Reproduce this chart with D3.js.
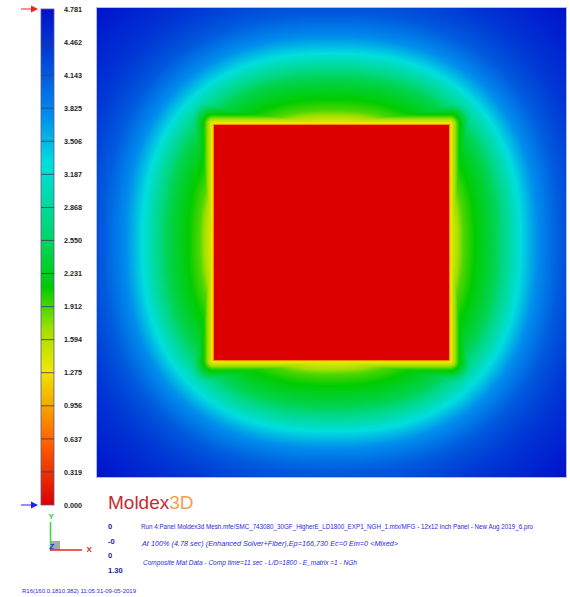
<!DOCTYPE html>
<html>
<head>
<meta charset="utf-8">
<script src="https://cdn.jsdelivr.net/npm/d3@7"></script>
<style>
  html, body { margin: 0; padding: 0; background: #ffffff; }
  svg { display: block; }
</style>
</head>
<body>
<svg id="chart" width="570" height="597"></svg>
<script>
// ---- result data: fill time (sec) ----
const tickValues = [0.000, 0.319, 0.637, 0.956, 1.275, 1.594, 1.912, 2.231, 2.550, 2.868, 3.187, 3.506, 3.825, 4.143, 4.462, 4.781];
const tickLabels = ["0.000", "0.319", "0.637", "0.956", "1.275", "1.594", "1.912", "2.231", "2.550", "2.868", "3.187", "3.506", "3.825", "4.143", "4.462", "4.781"];

// colour map (value -> colour)
const colorStops = [0.0, 0.6, 1.3, 1.7, 2.1, 2.7, 3.3, 3.8, 4.3, 4.781];
const colorHex = ["#dc0000", "#ff6000", "#f0e800", "#a0e000", "#00cc00", "#00d880", "#00dede", "#0088ec", "#0046d8", "#0010cc"];

// panel: charge square half-size (panel half-width = 1)
const chargeHalf = [0.503];
// flow front shape exponent (2 = circle, larger = squarer)
const frontExponent = [2.4];
// flow front time vs. distance from panel centre
const profileRadius = [0.503, 0.53, 0.56, 0.62, 0.70, 0.76, 0.81, 0.87, 0.97, 1.10, 1.335];
const profileTime = [1.30, 1.60, 1.90, 2.15, 2.50, 2.95, 3.35, 3.75, 4.15, 4.45, 4.781];
// time just outside the charge edge vs. distance from the edge
const edgeDist = [0.0, 0.015, 0.035, 0.3];
const edgeTime = [1.2, 1.55, 2.0, 6.0];

// annotation text
const headerNums = ["0", "-0", "0", "1.30"];
const infoLines = [
  "Run 4:Panel Moldex3d Mesh.mfe/SMC_743080_30GF_HigherE_LD1800_EXP1_NGH_1.mtx/MFG - 12x12 inch Panel - New Aug 2019_6.pro",
  "At 100% (4.78 sec) (Enhanced Solver+Fiber),Ep=166,730 Ec=0 Em=0  <Mixed>",
  "Composite Mat Data - Comp time=11 sec - L/D=1800 - E_matrix =1 - NGh"
];
const footerText = "R16(160.0.1810.382) 11:05:31-09-05-2019";

const svg = d3.select("#chart");
const font = "'Liberation Sans', Arial, sans-serif";

const color = d3.scaleLinear().domain(colorStops).range(colorHex).interpolate(d3.interpolateRgb).clamp(true);

// ---- field plot ----
const plot = { x: 96, y: 7, size: 471 };
const xs = d3.scaleLinear().domain([-1, 1]).range([plot.x, plot.x + plot.size]);
const ys = d3.scaleLinear().domain([1, -1]).range([plot.y, plot.y + plot.size]);
const radial = d3.scaleLinear().domain(profileRadius).range(profileTime).clamp(true);
const edge = d3.scaleLinear().domain(edgeDist).range(edgeTime).clamp(true);
const inner = d3.scaleLinear().domain([0, 0.006]).range([edgeTime[0], 0]).clamp(true);

function fillTime(u, v) {
  const h = chargeHalf[0];
  const ax = Math.abs(u), ay = Math.abs(v);
  if (ax <= h && ay <= h) {
    return inner(Math.min(h - ax, h - ay));
  }
  const dx = Math.max(ax - h, 0), dy = Math.max(ay - h, 0);
  const d = Math.hypot(dx, dy);
  const p = frontExponent[0];
  const r = Math.pow(Math.pow(ax, p) + Math.pow(ay, p), 1 / p);
  return Math.min(radial(r), edge(d));
}

const canvas = document.createElement("canvas");
canvas.width = plot.size;
canvas.height = plot.size;
const ctx = canvas.getContext("2d");
const img = ctx.createImageData(plot.size, plot.size);
for (let j = 0; j < plot.size; j++) {
  const v = ys.invert(plot.y + j + 0.5);
  for (let i = 0; i < plot.size; i++) {
    const u = xs.invert(plot.x + i + 0.5);
    const c = d3.rgb(color(fillTime(u, v)));
    const k = (j * plot.size + i) * 4;
    img.data[k] = c.r; img.data[k + 1] = c.g; img.data[k + 2] = c.b; img.data[k + 3] = 255;
  }
}
ctx.putImageData(img, 0, 0);

svg.append("image")
  .attr("x", plot.x).attr("y", plot.y)
  .attr("width", plot.size).attr("height", plot.size)
  .attr("href", canvas.toDataURL());

svg.append("rect")
  .attr("x", plot.x + 0.5).attr("y", plot.y + 0.5)
  .attr("width", plot.size - 1).attr("height", plot.size - 1)
  .attr("fill", "none").attr("stroke", "#b4bcdc").attr("stroke-width", 1);

// ---- colour legend ----
const bar = { x: 41, w: 13, top: 9, bottom: 505 };
const barScale = d3.scaleLinear().domain([0, 4.781]).range([bar.bottom, bar.top]);

const defs = svg.append("defs");
const grad = defs.append("linearGradient").attr("id", "legendGrad")
  .attr("x1", 0).attr("y1", 1).attr("x2", 0).attr("y2", 0);
grad.selectAll("stop").data(colorStops).join("stop")
  .attr("offset", d => d / 4.781)
  .attr("stop-color", d => color(d));

svg.append("rect")
  .attr("x", bar.x).attr("y", bar.top)
  .attr("width", bar.w).attr("height", bar.bottom - bar.top)
  .attr("fill", "url(#legendGrad)")
  .attr("stroke", "#5a5a88").attr("stroke-width", 0.8);

svg.selectAll("line.sep").data(tickValues.slice(1, -1)).join("line")
  .attr("class", "sep")
  .attr("x1", bar.x).attr("x2", bar.x + bar.w)
  .attr("y1", d => barScale(d)).attr("y2", d => barScale(d))
  .attr("stroke", "#3a3a66").attr("stroke-width", 0.8);

svg.selectAll("text.tick").data(tickValues).join("text")
  .attr("class", "tick")
  .attr("x", 64)
  .attr("y", d => barScale(d) + 2.6)
  .attr("font-family", font).attr("font-size", 7.2).attr("font-weight", "bold")
  .attr("fill", "#222")
  .text((d, i) => tickLabels[i]);

// max / min markers
function marker(y, col) {
  svg.append("line").attr("x1", 21).attr("x2", 32).attr("y1", y).attr("y2", y)
    .attr("stroke", col).attr("stroke-width", 1);
  svg.append("path")
    .attr("d", `M31,${y - 3.5} L38,${y} L31,${y + 3.5} Z`)
    .attr("fill", col);
}
marker(barScale(4.781), "#ee2020");
marker(barScale(0), "#2020ee");

// ---- axis triad ----
svg.append("rect").attr("x", 50).attr("y", 541).attr("width", 10).attr("height", 9).attr("fill", "#a8a8a8");
svg.append("line").attr("x1", 50.5).attr("x2", 50.5).attr("y1", 522).attr("y2", 550)
  .attr("stroke", "#33dd33").attr("stroke-width", 1.5);
svg.append("line").attr("x1", 50).attr("x2", 82).attr("y1", 550).attr("y2", 550)
  .attr("stroke", "#ee2222").attr("stroke-width", 1.5);
svg.append("text").attr("x", 48.5).attr("y", 519).attr("font-family", font).attr("font-size", 8)
  .attr("font-weight", "bold").attr("fill", "#33cc33").text("Y");
svg.append("text").attr("x", 86.5).attr("y", 552).attr("font-family", font).attr("font-size", 8)
  .attr("font-weight", "bold").attr("fill", "#ee2222").text("X");
svg.append("text").attr("x", 49.5).attr("y", 549).attr("font-family", font).attr("font-size", 7)
  .attr("font-style", "italic").attr("font-weight", "bold").attr("fill", "#2233dd").text("Z");

// ---- logo ----
const logo = svg.append("text").attr("x", 108).attr("y", 509)
  .attr("font-family", font).attr("font-size", 19);
logo.append("tspan").attr("fill", "#c62a2f").text("Moldex");
logo.append("tspan").attr("fill", "#f2a04e").text("3D");

// ---- run information ----
const numY = [529, 543.5, 558, 572.5];
svg.selectAll("text.num").data(headerNums).join("text")
  .attr("class", "num")
  .attr("x", 108).attr("y", (d, i) => numY[i])
  .attr("font-family", font).attr("font-size", 7.5).attr("font-weight", "bold")
  .attr("fill", "#1a1aa0")
  .text(d => d);

const infoX = [141, 142, 143];
const infoY = [528.5, 546, 564.5];
const infoW = [392, 256, 214];
svg.selectAll("text.info").data(infoLines).join("text")
  .attr("class", "info")
  .attr("x", (d, i) => infoX[i]).attr("y", (d, i) => infoY[i])
  .attr("font-family", font).attr("font-size", 6.8)
  .attr("font-style", (d, i) => i === 0 ? "normal" : "italic")
  .attr("fill", "#2a2ad8")
  .attr("textLength", (d, i) => infoW[i])
  .attr("lengthAdjust", "spacingAndGlyphs")
  .text(d => d);

svg.append("text").attr("x", 22).attr("y", 593)
  .attr("font-family", font).attr("font-size", 6)
  .attr("fill", "#2a2ad8")
  .text(footerText);
</script>
</body>
</html>
